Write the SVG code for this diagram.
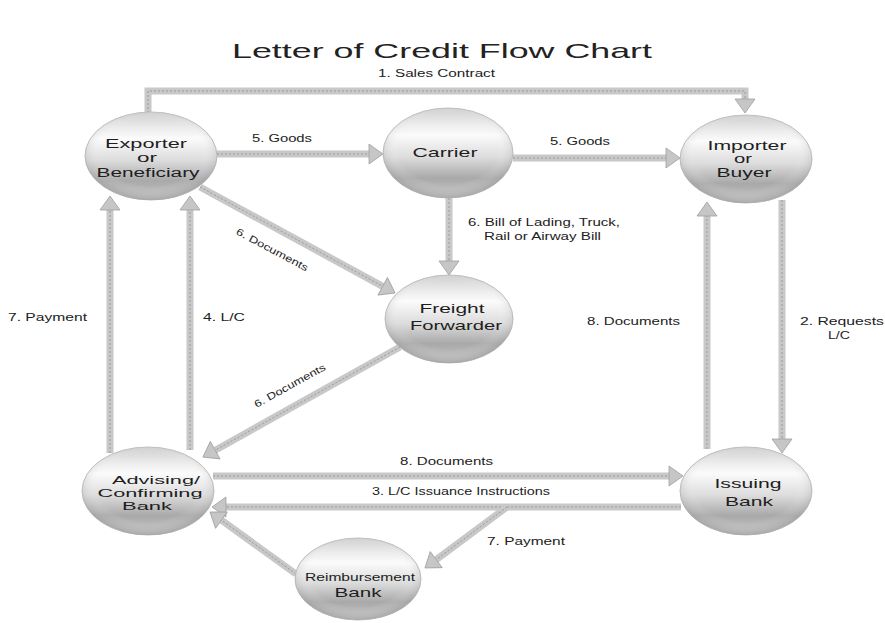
<svg xmlns="http://www.w3.org/2000/svg" width="885" height="623" viewBox="0 0 885 623">
<defs>
<linearGradient id="ball" x1="0" y1="0" x2="0" y2="1">
<stop offset="0" stop-color="#cfcfcf"/>
<stop offset="0.18" stop-color="#ececec"/>
<stop offset="0.3" stop-color="#fbfbfb"/>
<stop offset="0.55" stop-color="#dcdcdc"/>
<stop offset="0.78" stop-color="#a9a9a9"/>
<stop offset="1" stop-color="#c2c2c2"/>
</linearGradient>
<radialGradient id="shade" cx="0.5" cy="0.45" r="0.55">
<stop offset="0.7" stop-color="#ffffff" stop-opacity="0"/>
<stop offset="1" stop-color="#8c8c8c" stop-opacity="0.45"/>
</radialGradient>
<marker id="arr" viewBox="0 -11 16 22" markerWidth="16" markerHeight="22" refX="0" refY="0" orient="auto" markerUnits="userSpaceOnUse" overflow="visible">
<path d="M0,-10 L14,0 L0,10 z" fill="#c6c6c6" stroke="#a0a0a0" stroke-width="0.8"/>
</marker>
</defs>
<style>
.ln{fill:none;stroke:#c8c8c8;stroke-width:7;}
.lc{fill:none;stroke:#9a9a9a;stroke-width:1;stroke-dasharray:2 2;}
.ar{marker-end:url(#arr);}
.nd{fill:url(#ball);stroke:#bdbdbd;stroke-width:1;}
.sh{fill:url(#shade);}
.nt{font-family:"Liberation Sans",Arial,sans-serif;font-size:12px;fill:#1e1e1e;text-anchor:middle;}
.lb{font-family:"Liberation Sans",Arial,sans-serif;font-size:10px;fill:#222;}
.ttl{font-family:"Liberation Sans",Arial,sans-serif;font-size:21px;fill:#222;text-anchor:middle;}
</style>
<rect width="885" height="623" fill="#ffffff"/>
<text class="ttl" x="442" y="58" textLength="420" lengthAdjust="spacingAndGlyphs">Letter of Credit Flow Chart</text>

<g id="connectors">
<path class="ln ar" d="M148,113 L148,91 L745,91 L745,99"/>
<path class="lc" d="M148,113 L148,91 L745,91 L745,99"/>
<path class="ln ar" d="M217,154 L369,154"/>
<path class="lc" d="M217,154 L369,154"/>
<path class="ln ar" d="M513,158 L666,158"/>
<path class="lc" d="M513,158 L666,158"/>
<path class="ln ar" d="M449,198 L449,261"/>
<path class="lc" d="M449,198 L449,261"/>
<path class="ln ar" d="M200,187 L382.7,286.3"/>
<path class="lc" d="M200,187 L382.7,286.3"/>
<path class="ln ar" d="M400,347 L215.2,450.2"/>
<path class="lc" d="M400,347 L215.2,450.2"/>
<path class="ln ar" d="M110,453 L110,210"/>
<path class="lc" d="M110,453 L110,210"/>
<path class="ln ar" d="M190,450 L190,210"/>
<path class="lc" d="M190,450 L190,210"/>
<path class="ln ar" d="M213,476 L669,476"/>
<path class="lc" d="M213,476 L669,476"/>
<path class="ln ar" d="M681,507 L226,507"/>
<path class="lc" d="M681,507 L226,507"/>
<path class="ln ar" d="M507,507 L436.2,559.6"/>
<path class="lc" d="M507,507 L436.2,559.6"/>
<path class="ln ar" d="M296,574 L221.4,520.2"/>
<path class="lc" d="M296,574 L221.4,520.2"/>
<path class="ln ar" d="M707,449 L707,216"/>
<path class="lc" d="M707,449 L707,216"/>
<path class="ln ar" d="M782,200 L782,439"/>
<path class="lc" d="M782,200 L782,439"/>

<text class="lb" x="378" y="77" textLength="117" lengthAdjust="spacingAndGlyphs">1. Sales Contract</text>
<text class="lb" x="252" y="142" textLength="60" lengthAdjust="spacingAndGlyphs">5. Goods</text>
<text class="lb" x="550" y="145" textLength="60" lengthAdjust="spacingAndGlyphs">5. Goods</text>
<text class="lb" x="468" y="226" textLength="152" lengthAdjust="spacingAndGlyphs">6. Bill of Lading, Truck,</text>
<text class="lb" x="484" y="240" textLength="117" lengthAdjust="spacingAndGlyphs">Rail or Airway Bill</text>
<text class="lb" transform="translate(272,250) rotate(28)" x="0" y="3" text-anchor="middle" textLength="80" lengthAdjust="spacingAndGlyphs">6. Documents</text>
<text class="lb" transform="translate(290,386) rotate(-29)" x="0" y="3" text-anchor="middle" textLength="80" lengthAdjust="spacingAndGlyphs">6. Documents</text>
<text class="lb" x="8" y="321" textLength="79" lengthAdjust="spacingAndGlyphs">7. Payment</text>
<text class="lb" x="203" y="321" textLength="42" lengthAdjust="spacingAndGlyphs">4. L/C</text>
<text class="lb" x="587" y="325" textLength="93" lengthAdjust="spacingAndGlyphs">8. Documents</text>
<text class="lb" x="800" y="325" textLength="84" lengthAdjust="spacingAndGlyphs">2. Requests</text>
<text class="lb" x="828" y="339" textLength="22" lengthAdjust="spacingAndGlyphs">L/C</text>
<text class="lb" x="400" y="465" textLength="93" lengthAdjust="spacingAndGlyphs">8. Documents</text>
<text class="lb" x="372" y="495" textLength="178" lengthAdjust="spacingAndGlyphs">3. L/C Issuance Instructions</text>
<text class="lb" x="487" y="545" textLength="78" lengthAdjust="spacingAndGlyphs">7. Payment</text>
</g>

<g id="exporter">
<ellipse class="nd" cx="151" cy="156" rx="66" ry="44"/>
<ellipse class="sh" cx="151" cy="156" rx="66" ry="44"/>
<text class="nt" x="146" y="148" textLength="82" lengthAdjust="spacingAndGlyphs">Exporter</text>
<text class="nt" x="147" y="162" textLength="20" lengthAdjust="spacingAndGlyphs">or</text>
<text class="nt" x="148" y="177" textLength="103" lengthAdjust="spacingAndGlyphs">Beneficiary</text>
</g>

<g id="carrier">
<ellipse class="nd" cx="448" cy="153" rx="65" ry="45"/>
<ellipse class="sh" cx="448" cy="153" rx="65" ry="45"/>
<text class="nt" x="445" y="157" style="font-size:13px" textLength="65" lengthAdjust="spacingAndGlyphs">Carrier</text>
</g>

<g id="importer">
<ellipse class="nd" cx="746" cy="159" rx="66" ry="44"/>
<ellipse class="sh" cx="746" cy="159" rx="66" ry="44"/>
<text class="nt" x="747" y="150" textLength="79" lengthAdjust="spacingAndGlyphs">Importer</text>
<text class="nt" x="743" y="163" textLength="18" lengthAdjust="spacingAndGlyphs">or</text>
<text class="nt" x="744" y="177" textLength="55" lengthAdjust="spacingAndGlyphs">Buyer</text>
</g>

<g id="freight-forwarder">
<ellipse class="nd" cx="449" cy="319" rx="64" ry="44"/>
<ellipse class="sh" cx="449" cy="319" rx="64" ry="44"/>
<text class="nt" x="452" y="313" style="font-size:13px" textLength="65" lengthAdjust="spacingAndGlyphs">Freight</text>
<text class="nt" x="456" y="330" style="font-size:13px" textLength="92" lengthAdjust="spacingAndGlyphs">Forwarder</text>
</g>

<g id="advising-bank">
<ellipse class="nd" cx="148" cy="491" rx="66" ry="44"/>
<ellipse class="sh" cx="148" cy="491" rx="66" ry="44"/>
<text class="nt" x="156" y="484" style="font-size:11.5px" textLength="88" lengthAdjust="spacingAndGlyphs">Advising/</text>
<text class="nt" x="150" y="497" style="font-size:11.5px" textLength="105" lengthAdjust="spacingAndGlyphs">Confirming</text>
<text class="nt" x="147" y="510" style="font-size:11.5px" textLength="50" lengthAdjust="spacingAndGlyphs">Bank</text>
</g>

<g id="issuing-bank">
<ellipse class="nd" cx="746" cy="491" rx="66" ry="44"/>
<ellipse class="sh" cx="746" cy="491" rx="66" ry="44"/>
<text class="nt" x="748" y="488" style="font-size:13px" textLength="67" lengthAdjust="spacingAndGlyphs">Issuing</text>
<text class="nt" x="749" y="506" style="font-size:13px" textLength="48" lengthAdjust="spacingAndGlyphs">Bank</text>
</g>

<g id="reimbursement-bank">
<ellipse class="nd" cx="358" cy="579" rx="63" ry="41"/>
<ellipse class="sh" cx="358" cy="579" rx="63" ry="41"/>
<text class="nt" x="360" y="581" style="font-size:10px" textLength="110" lengthAdjust="spacingAndGlyphs">Reimbursement</text>
<text class="nt" x="358" y="597" style="font-size:13px" textLength="47" lengthAdjust="spacingAndGlyphs">Bank</text>
</g>
</svg>
